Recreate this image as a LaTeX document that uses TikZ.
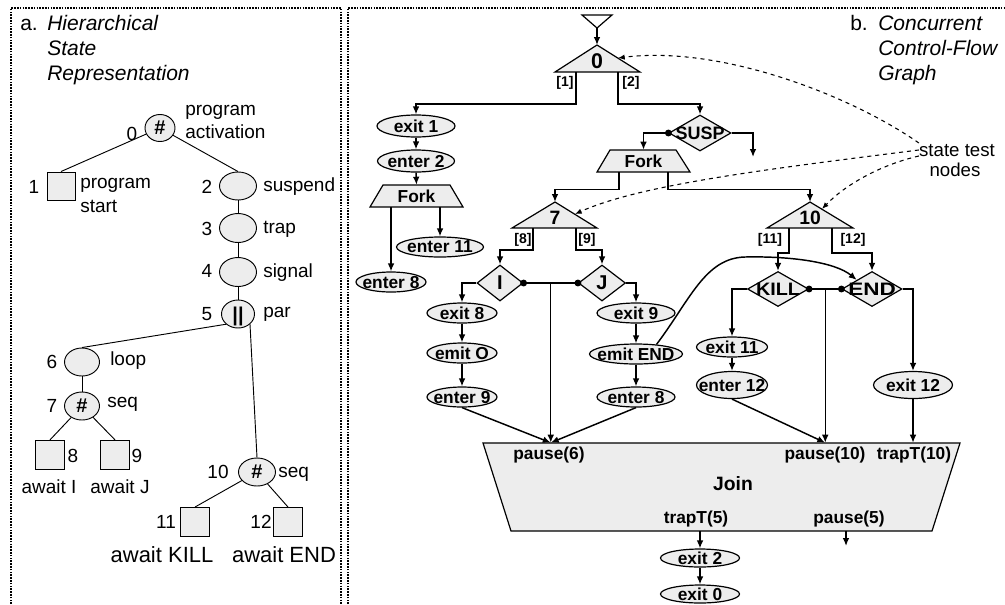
\documentclass[tikz,border=0pt]{standalone}
\usepackage{fontspec}
\setmainfont{Liberation Sans}
\usepackage{graphicx}
\usetikzlibrary{shapes.geometric,arrows.meta,calc}
\definecolor{gfill}{gray}{0.93}
\newcommand\ctext[1]{\smash{\makebox[0pt]{\raisebox{-.5\height}{#1}}}}
\begin{document}
\begin{tikzpicture}[x=0.75pt,y=-0.75pt,
  ell/.style={ellipse,draw,fill=gfill,line width=0.9pt,inner sep=0pt,font=\bfseries\fontsize{13}{14}\selectfont},
  dia/.style={diamond,draw,fill=gfill,line width=0.9pt,inner sep=0pt,font=\bfseries\fontsize{13.5}{15}\selectfont},
  tri/.style={draw,fill=gfill,line width=0.9pt,line join=miter},
  arr/.style={line width=1.1pt,-{Latex[length=6pt,width=5pt]}},
  ln/.style={line width=1.1pt},
  dsh/.style={dashed,line width=0.8pt,-{Latex[length=5pt,width=4pt]}},
  lell/.style={ellipse,draw,fill=gfill,line width=0.7pt,inner sep=0pt,font=\bfseries\fontsize{15}{16}\selectfont},
  lsq/.style={rectangle,draw,fill=gfill,line width=0.7pt,inner sep=0pt},
  lt/.style={font=\fontsize{14.25}{16}\selectfont,inner sep=0pt},
  bt/.style={font=\bfseries\fontsize{13}{14}\selectfont,inner sep=0pt},
  br/.style={font=\bfseries\fontsize{10.5}{12}\selectfont,inner sep=0pt},
  trl/.style={font=\bfseries\fontsize{16}{17}\selectfont,inner sep=0pt},
  ttl/.style={font=\fontsize{15.75}{18}\selectfont,inner sep=0pt,anchor=base west},
  pborder/.style={line width=1.4pt,dash pattern=on 1.2pt off 0.9pt}]
\useasboundingbox (0,0) rectangle (1005,604);
% panel borders
\draw[pborder] (11,604) -- (11,8) -- (341,8) -- (341,604);
\draw[pborder] (348,604) -- (348,8) -- (1005,8);
% titles
\node[ttl] (ta) at (20,30) {a.};
\node[ttl,font=\itshape\fontsize{15.75}{18}\selectfont] (ta1) at (47,30) {Hierarchical};
\node[ttl,font=\itshape\fontsize{15.75}{18}\selectfont] (ta2) at (47,55) {State};
\node[ttl,font=\itshape\fontsize{15.75}{18}\selectfont] (ta3) at (47,80) {Representation};
\node[ttl] (tb) at (850,30) {b.};
\node[ttl,font=\itshape\fontsize{15.75}{18}\selectfont] (tb1) at (878,30) {Concurrent};
\node[ttl,font=\itshape\fontsize{15.75}{18}\selectfont] (tb2) at (878,55) {Control-Flow};
\node[ttl,font=\itshape\fontsize{15.75}{18}\selectfont] (tb3) at (878,80) {Graph};

% ===== left panel: tree =====
\node[lell,minimum width=22.5pt,minimum height=20.25pt] (n0) at (160,128) {\ctext{\#}};
\node[lsq,minimum size=21pt] (sq1) at (61,186) {};
\node[lell,minimum width=27.75pt,minimum height=21pt] (n2) at (238,186) {};
\node[lell,minimum width=27.75pt,minimum height=21.75pt] (n3) at (238,228) {};
\node[lell,minimum width=27.75pt,minimum height=21.75pt] (n4) at (238,272) {};
\node[lell,minimum width=24.75pt,minimum height=21pt] (n5) at (238,314) {\ctext{||}};
\node[lell,minimum width=26.25pt,minimum height=21pt] (n6) at (82,362) {};
\node[lell,minimum width=26.25pt,minimum height=21pt] (n7) at (82,406) {\ctext{\#}};
\node[lsq,minimum size=22pt] (sq8) at (50,455) {};
\node[lsq,minimum size=22pt] (sq9) at (115,455) {};
\node[lell,minimum width=27.75pt,minimum height=21pt] (n10) at (257,472) {\ctext{\#}};
\node[lsq,minimum size=21.75pt] (sq11) at (195,522) {};
\node[lsq,minimum size=21.75pt] (sq12) at (288,522) {};

\draw[line width=0.7pt] (n0) -- (sq1.north);
\draw[line width=0.7pt] (n0) -- (n2.north);
\draw[line width=0.7pt] (n2) -- (n3);
\draw[line width=0.7pt] (n3) -- (n4);
\draw[line width=0.7pt] (n4) -- (n5);
\draw[line width=0.7pt] (n5.south west) -- (n6.north);
\draw[line width=0.7pt] (n5.south east) -- (n10.north);
\draw[line width=0.7pt] (n6) -- (n7);
\draw[line width=0.7pt] (n7) -- (sq8.north);
\draw[line width=0.7pt] (n7) -- (sq9.north);
\draw[line width=0.7pt] (n10) -- (sq11.north);
\draw[line width=0.7pt] (n10) -- (sq12.north);

\node[lt,anchor=base] (l0) at (132,140) {0};
\node[lt,anchor=base west] (l0a) at (185,115) {program};
\node[lt,anchor=base west] (l0b) at (185,138) {activation};
\node[lt,anchor=base] (l1) at (34,193) {1};
\node[lt,anchor=base west] (l1a) at (80,188) {program};
\node[lt,anchor=base west] (l1b) at (80,212) {start};
\node[lt,anchor=base] (l2) at (207,193) {2};
\node[lt,anchor=base west] (l2a) at (263,191) {suspend};
\node[lt,anchor=base] (l3) at (207,235) {3};
\node[lt,anchor=base west] (l3a) at (263,233) {trap};
\node[lt,anchor=base] (l4) at (207,277) {4};
\node[lt,anchor=base west] (l4a) at (263,277) {signal};
\node[lt,anchor=base] (l5) at (207,320) {5};
\node[lt,anchor=base west] (l5a) at (263,317) {par};
\node[lt,anchor=base] (l6) at (52,368) {6};
\node[lt,anchor=base west] (l6a) at (110,365) {loop};
\node[lt,anchor=base] (l7) at (52,412) {7};
\node[lt,anchor=base west] (l7a) at (107,407) {seq};
\node[lt,anchor=base] (l8) at (73,462) {8};
\node[lt,anchor=base] (l9) at (137,462) {9};
\node[lt,anchor=base] (l8a) at (49,493) {await I};
\node[lt,anchor=base] (l9a) at (120,493) {await J};
\node[lt,anchor=base] (l10) at (218,478) {10};
\node[lt,anchor=base west] (l10a) at (278,477) {seq};
\node[lt,anchor=base] (l11) at (166,528) {11};
\node[lt,anchor=base] (l12) at (261,528) {12};
\node[lt,anchor=base,font=\fontsize{16.5}{18}\selectfont] (l11a) at (162,562) {await KILL};
\node[lt,anchor=base,font=\fontsize{16.5}{18}\selectfont] (l12a) at (284,562) {await END};

% ===== right panel =====
% entry triangle
\draw[tri,fill=white] (582,15) -- (612,15) -- (597,28) -- cycle;
\coordinate (entry) at (597,28);
% state triangles
\coordinate (t0a) at (597,45);
\draw[tri] (t0a) -- (555,72) -- (640,72) -- cycle;
\node[trl] (t0) at (597,61) {\ctext{0}};
\coordinate (t0b1) at (576,72);
\coordinate (t0b2) at (618,72);
\coordinate (t0r) at (618,58);

\coordinate (t7a) at (555,202);
\draw[tri] (t7a) -- (512,228) -- (597,228) -- cycle;
\node[trl,font=\bfseries\fontsize{14.5}{15}\selectfont] (t7) at (555,218) {\ctext{7}};
\coordinate (t7b8) at (533,228);
\coordinate (t7b9) at (576,228);
\coordinate (t7r) at (575,214);

\coordinate (t10a) at (810,202);
\draw[tri] (t10a) -- (767,228) -- (853,228) -- cycle;
\node[trl,font=\bfseries\fontsize{14.5}{15}\selectfont] (t10) at (810,218) {\ctext{10}};
\coordinate (t10b11) at (789,228);
\coordinate (t10b12) at (832,228);
\coordinate (t10r) at (822,209);

% branch labels
\node[br] (b1) at (565,83) {[1]};
\node[br] (b2) at (631,83) {[2]};
\node[br] (b8) at (523,240) {[8]};
\node[br] (b9) at (587,240) {[9]};
\node[br] (b11) at (770,240) {[11]};
\node[br] (b12) at (853,240) {[12]};

% ellipses
\node[ell,minimum width=58.5pt,minimum height=16.5pt] (exit1) at (416,126) {\ctext{exit 1}};
\node[ell,minimum width=57.75pt,minimum height=16.5pt] (enter2) at (416,161) {\ctext{enter 2}};
\node[ell,minimum width=65.25pt,minimum height=15pt] (enter11) at (440,247) {\ctext{enter 11}};
\node[ell,minimum width=52.5pt,minimum height=15pt] (enter8L) at (391,282) {\ctext{enter 8}};
\node[ell,minimum width=52.5pt,minimum height=15pt] (exit8) at (462,313) {\ctext{exit 8}};
\node[ell,minimum width=52.5pt,minimum height=15pt] (emitO) at (462,353) {\ctext{emit O}};
\node[ell,minimum width=52.5pt,minimum height=15pt] (enter9) at (462,397) {\ctext{enter 9}};
\node[ell,minimum width=58.5pt,minimum height=15pt] (exit9) at (636,313) {\ctext{exit 9}};
\node[ell,minimum width=69.75pt,minimum height=15pt] (emitEND) at (636,354) {\ctext{emit END}};
\node[ell,minimum width=58.5pt,minimum height=15pt] (enter8R) at (636,397) {\ctext{enter 8}};
\node[ell,minimum width=53.25pt,minimum height=15pt] (exit11) at (732,347) {\ctext{exit 11}};
\node[ell,minimum width=53.25pt,minimum height=20.25pt] (enter12) at (732,385) {\ctext{enter 12}};
\node[ell,minimum width=59.25pt,minimum height=20.25pt] (exit12) at (913,385) {\ctext{exit 12}};
\node[ell,minimum width=59.25pt,minimum height=13.5pt] (exit2) at (700,558) {\ctext{exit 2}};
\node[ell,minimum width=59.25pt,minimum height=13.5pt] (exit0) at (700,594) {\ctext{exit 0}};

% diamonds
\node[dia,minimum width=46.5pt,minimum height=27pt] (susp) at (700,133) {\ctext{SUSP}};
\node[dia,minimum width=34.5pt,minimum height=27pt,font=\bfseries\fontsize{15}{16}\selectfont] (I) at (500,283) {\ctext{I}};
\node[dia,minimum width=35.25pt,minimum height=27pt,font=\bfseries\fontsize{15}{16}\selectfont] (J) at (602,283) {\ctext{J}};
\node[dia,minimum width=45.75pt,minimum height=26.25pt] (KILL) at (778,289) {\ctext{\scalebox{1.1}[1]{KILL}}};
\node[dia,minimum width=45pt,minimum height=26.25pt] (END) at (872,289) {\ctext{\scalebox{1.25}[1]{END}}};

% forks and join (trapezia drawn as paths, named label boxes)
\draw[tri] (383,185) -- (450,185) -- (463,207) -- (370,207) -- cycle;
\node[bt,minimum width=69.75pt,minimum height=16.5pt] (forkL) at (416.5,196) {Fork};
\draw[tri] (610,150) -- (676,150) -- (690,172) -- (597,172) -- cycle;
\node[bt,minimum width=69.75pt,minimum height=16.5pt] (forkR) at (643.5,161) {Fork};
\draw[tri] (483,443) -- (960,443) -- (932,531) -- (511,531) -- cycle;
\node[inner sep=0pt,minimum width=357.75pt,minimum height=66pt] (join) at (721.5,487) {};
\node[bt] (jp6) at (549,455) {pause(6)};
\node[bt] (jp10) at (825,455) {pause(10)};
\node[bt] (jt10) at (914,455) {trapT(10)};
\node[bt,font=\bfseries\fontsize{14.5}{16}\selectfont] (jl) at (733,484) {Join};
\node[bt] (jt5) at (696,519) {trapT(5)};
\node[bt] (jp5) at (849,519) {pause(5)};

% connectors
\draw[arr] (entry) -- (t0a);
\draw[arr] (t0b1) -- ++(0,32) -| (exit1.north);
\draw[arr] (t0b2) -- ++(0,32) -| (susp.north);
\draw[arr] (exit1.south) -- (enter2.north);
\draw[arr] (enter2.south) -- (forkL.north);
\draw[arr] (enter8L.north |- forkL.south) -- (enter8L.north);
\draw[arr] (enter11.north |- forkL.south) -- (enter11.north);
\draw[arr] (susp.west) -| (forkR.north);
\fill (susp.west) circle (2.6pt);
\coordinate (suspout) at (753,157);
\draw[arr] (susp.east) -| (suspout);
\draw[arr] ($(forkR.south)+(-24.5,0)$) -- ++(0,17) -| (t7a);
\draw[arr] ($(forkR.south)+(24.5,0)$) -- ++(0,17) -| (t10a);
\draw[arr] (t7b8) -- ++(0,22) -| (I.north);
\draw[arr] (t7b9) -- ++(0,22) -| (J.north);
\draw[arr] (t10b11) -- ++(0,25) -| (KILL.north);
\draw[arr] (t10b12) -- ++(0,25) -| (END.north);
\draw[arr] (I.west) -| (exit8.north);
\draw[arr] (J.east) -| (exit9.north);
\draw[arr] (KILL.west) -| (exit11.north);
\draw[arr] (END.east) -| (exit12.north);
\draw[ln] (I.east) -- (J.west);
\fill (I.east) circle (2.6pt);
\fill (J.west) circle (2.6pt);
\draw[ln] (KILL.east) -- (END.west);
\fill (KILL.east) circle (2.6pt);
\fill (END.west) circle (2.6pt);
\coordinate (ij) at ($(I.east)!0.5!(J.west)$);
\coordinate (ke) at ($(KILL.east)!0.5!(END.west)$);
\draw[arr] (exit8.south) -- (emitO.north);
\draw[arr] (emitO.south) -- (enter9.north);
\draw[arr] (exit9.south) -- (emitEND.north);
\draw[arr] (emitEND.south) -- (enter8R.north);
\draw[arr] (exit11.south) -- (enter12.north);
\draw[arr] (ij) -- (ij |- join.north);
\draw[arr] (enter9.south) -- (ij |- join.north);
\draw[arr] (enter8R.south) -- (ij |- join.north);
\draw[arr] (ke) -- (ke |- join.north);
\draw[arr] (enter12.south) -- (ke |- join.north);
\draw[arr] (exit12.south) -- (exit12.south |- join.north);
\draw[arr] (emitEND.25) .. controls (690,300) and (705,258) .. (745,257) .. controls (790,256) and (835,262) .. (END.north west);
\draw[arr] (exit2.north |- join.south) -- (exit2.north);
\draw[arr] (exit2.south) -- (exit0.north);
\coordinate (p5out) at (846,546);
\draw[arr] (p5out |- join.south) -- (p5out);

% state test nodes annotation
\node[lt,anchor=base,font=\fontsize{14}{16}\selectfont] (stn) at (957,156) {state test};
\node[lt,anchor=base,font=\fontsize{14}{16}\selectfont] (stn2) at (955,176) {nodes};
\coordinate (s1) at (916,143);
\coordinate (s2) at (915,150);
\coordinate (s3) at (916,156);
\draw[dsh] (stn.west |- s1) .. controls (850,95) and (720,45) .. (t0r);
\draw[dsh] (stn.west |- s2) .. controls (760,170) and (640,185) .. (t7r);
\draw[dsh] (stn.west |- s3) .. controls (880,165) and (845,185) .. (t10r);
\end{tikzpicture}
\end{document}
